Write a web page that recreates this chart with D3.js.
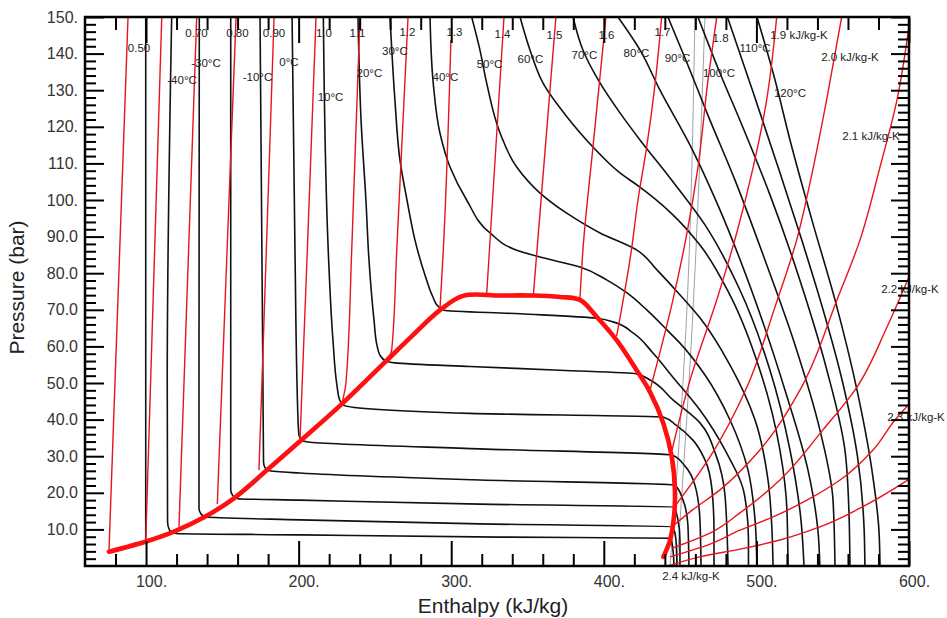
<!DOCTYPE html>
<html><head><meta charset="utf-8">
<script src="https://cdn.jsdelivr.net/npm/d3@7"></script>
<style>body{margin:0;background:#fff}svg{display:block}text{font-family:"Liberation Sans",Arial,Helvetica,sans-serif}</style>
</head><body>
<svg id="c" width="947" height="618"></svg>
<script>
// ---- axis ticks ----
const xMajor=[100,200,300,400,500,600];
const xMajorLabels=["100.","200.","300.","400.","500.","600."];
const xMinor=[80,120,140,160,180,220,240,260,280,320,340,360,380,420,440,460,480,520,540,560,580];
const yMajor=[10,20,30,40,50,60,70,80,90,100,110,120,130,140,150];
const yMajorLabels=["10.0","20.0","30.0","40.0","50.0","60.0","70.0","80.0","90.0","100.","110.","120.","130.","140.","150."];
const yMinor=[2,4,6,8,12,14,16,18,22,24,26,28,32,34,36,38,42,44,46,48,52,54,56,58,62,64,66,68,72,74,76,78,82,84,86,88,92,94,96,98,102,104,106,108,112,114,116,118,122,124,126,128,132,134,136,138,142,144,146,148];

// ---- saturation dome [h kJ/kg, p bar] ----
const dome=[[75.7,3.9],[100.0,6.7],[118.3,9.4],[138.0,13.3],[157.6,18.5],[179.3,26.2],[200.9,34.1],[228.4,44.3],[256.6,55.7],[274.9,63.1],[292.6,69.9],[307.7,73.8],[332.0,73.9],[353.6,73.9],[371.3,73.5],[384.4,72.7],[395.3,68.1],[408.4,61.7],[421.5,53.5],[430.3,47.5],[439.0,39.0],[444.5,29.9],[446.6,20.8],[446.0,13.5],[443.4,7.1],[439.0,2.5]];

// ---- isotherms ----
const isothermNames=["-50","-40","-30","-20","-10","0","10","20","30","40","50","60","70","80","90","100","110","120"];
const isotherms=[
 [[99.8,150],[99.8,6.8]],
 [[116.8,150],[113.9,50.8],[114.1,12.0],[115.4,9.8],[119.6,8.9],[200.9,8.5],[332.0,7.9],[444.0,7.6],[445.3,4.4],[446.0,0]],
 [[134.9,150],[134.7,50.8],[134.7,15.8],[136.0,14.2],[139.9,13.4],[200.9,12.6],[318.8,11.5],[445.3,10.7],[447.3,7.1],[447.9,0]],
 [[155.5,150],[155.5,20.8],[156.7,19.3],[160.3,18.4],[200.9,18.0],[318.8,16.9],[446.0,16.1],[448.6,12.6],[449.9,7.1],[449.9,0]],
 [[174.7,150],[176.6,50.8],[177.0,28.4],[178.0,26.8],[181.2,26.0],[200.9,25.4],[318.8,23.5],[446.6,22.1],[451.9,18.0],[455.1,11.2],[455.8,0]],
 [[195.7,150],[197.6,86.3],[199.6,39.9],[200.2,35.8],[202.2,34.3],[206.1,33.9],[318.8,32.0],[444.7,30.3],[453.2,27.3],[459.7,22.1],[463.0,12.6],[463.7,0]],
 [[216.2,150],[219.4,86.3],[222.5,61.7],[225.1,49.4],[226.8,45.4],[229.7,43.9],[312.3,41.7],[438.8,40.7],[447.3,38.5],[458.4,34.4],[466.3,29.0],[470.9,20.8],[472.2,9.8],[472.2,0]],
 [[238.9,150],[240.9,121.9],[244.1,100.0],[246.1,83.6],[249.4,67.2],[251.3,60.4],[253.3,57.6],[257.2,56.0],[263.1,55.5],[312.3,54.5],[371.3,53.5],[421.5,52.5],[430.3,50.8],[445.3,45.4],[463.0,39.1],[473.5,30.3],[479.4,19.4],[481.4,0]],
 [[259.9,150],[263.1,127.3],[266.4,110.9],[271.0,100.0],[276.2,89.1],[282.8,79.5],[288.0,73.5],[291.3,71.0],[295.3,69.9],[345.1,68.9],[395.3,67.7],[406.0,66.7],[419.1,63.7],[432.2,58.2],[445.3,51.6],[463.0,42.6],[479.4,31.7],[492.2,19.4],[494.8,7.1],[494.8,0]],
 [[286.1,150],[288.2,132.0],[292.6,118.3],[299.2,109.0],[310.1,100.0],[325.4,91.0],[342.9,86.3],[358.2,84.4],[384.4,81.7],[402.1,78.1],[415.2,74.6],[428.3,69.9],[441.4,64.5],[449.9,60.9],[466.3,52.2],[482.7,39.9],[494.5,26.2],[499.1,12.6],[500.4,0]],
 [[313.4,150],[318.8,141.0],[323.2,132.0],[332.0,118.3],[342.9,109.0],[358.2,101.9],[375.7,96.4],[397.5,91.0],[421.7,86.3],[434.8,80.9],[445.3,76.2],[463.0,67.8],[482.7,54.9],[499.1,39.9],[507.6,23.5],[510.2,9.8],[510.9,0]],
 [[345.1,150],[351.6,141.0],[360.1,132.0],[375.9,122.7],[392.9,114.5],[410.6,107.4],[423.7,103.5],[443.4,96.7],[463.0,87.7],[482.7,74.0],[502.3,53.5],[515.4,31.7],[520.0,15.3],[520.7,0]],
 [[379.8,150],[386.3,141.0],[397.5,132.0],[410.6,123.8],[423.7,116.4],[443.4,106.0],[466.3,93.2],[489.2,75.4],[508.9,53.5],[522.0,31.7],[529.2,12.6],[531.2,0]],
 [[409.3,150],[423.7,141.0],[436.8,130.0],[456.5,115.0],[476.1,97.3],[499.1,72.7],[518.7,48.1],[533.8,26.2],[540.3,9.8],[541.6,0]],
 [[442.0,150],[453.8,138.2],[468.2,123.2],[485.9,105.5],[505.6,83.6],[525.3,60.4],[541.6,37.2],[550.2,18.0],[551.5,0]],
 [[461.7,150],[476.1,134.7],[490.5,120.5],[508.9,101.4],[528.5,78.1],[546.2,53.5],[558.0,31.7],[560.6,15.3],[561.3,0]],
 [[481.0,150],[497.4,130.0],[513.4,110.0],[529.0,90.0],[543.7,70.0],[556.6,50.0],[566.2,30.0],[570.6,10.0],[571.1,0]],
 [[500.4,150],[512.2,132.8],[522.0,116.4],[536.4,94.5],[551.5,72.7],[565.9,48.1],[575.7,26.2],[580.3,9.8],[581.0,0]]
];

// ---- isentropes (kJ/kg-K) ----
const isentropeNames=["0.50","0.60","0.70","0.80","0.90","1.0","1.1","1.2","1.3","1.4","1.5","1.6","1.7","1.8","1.9","2.0","2.1","2.2","2.3","2.4"];
const isentropes=[
 [[75.7,3.9],[88.2,150]],
 [[99.8,6.6],[110.3,150]],
 [[121.6,10.7],[133.2,150]],
 [[146.7,16.9],[159.0,150]],
 [[174.0,26.2],[176.0,50.8],[183.9,150]],
 [[200.9,34.4],[205.7,86.3],[211.4,150]],
 [[228.4,44.5],[231.0,50.0],[234.8,86.3],[240.2,150]],
 [[259.2,57.1],[261.0,59.0],[264.3,86.3],[271.7,150]],
 [[292.6,69.9],[294.8,86.3],[299.8,143.7]],
 [[323.2,74.0],[334.6,150]],
 [[353.8,73.9],[368.6,150]],
 [[384.4,73.2],[386.3,86.3],[392.9,114.5],[401.4,150]],
 [[408.4,62.8],[417.8,85.5],[422.4,100.0],[428.1,114.5],[433.5,131.4],[437.9,150]],
 [[430.3,48.1],[445.3,72.7],[454.5,91.0],[461.7,109.0],[468.3,132.8],[474.0,150]],
 [[444.7,31.7],[456.5,50.8],[474.0,72.7],[487.1,91.0],[497.9,109.0],[506.7,127.3],[513.3,150]],
 [[447.3,16.7],[469.6,29.8],[493.8,48.9],[512.2,70.8],[526.4,89.1],[535.1,104.6],[546.0,127.3],[555.9,150]],
 [[446.0,11.2],[456.5,14.8],[476.1,20.8],[502.3,31.7],[528.6,48.1],[552.8,72.7],[567.9,89.1],[581.0,109.0],[592.1,127.3],[600.6,149.3]],
 [[444.7,4.9],[469.6,9.0],[489.2,14.5],[515.4,23.5],[543.6,37.2],[565.9,48.9],[585.6,65.3],[601.3,80.3]],
 [[443.4,2.5],[469.6,6.0],[489.2,9.8],[510.9,13.4],[533.1,18.0],[554.8,23.5],[576.4,31.7],[590.8,39.9],[601.3,44.8]],
 [[442.1,0],[463.0,2.5],[489.2,4.6],[515.4,7.1],[541.6,10.7],[567.9,15.8],[601.3,24.0]]
];

// ---- thin grey guide lines ----
const greyLines=[
 [[459.7,150],[453.8,64.5],[443.4,0]],
 [[466.3,150],[457.8,64.5],[447.9,0]]
];

// ---- curve labels [text, h, p] ----
const entropyLabels=[["0.50",95.4,141.5],["0.70",133.1,145.6],["0.80",159.9,145.6],["0.90",183.9,145.6],["1.0",216.6,145.6],["1.1",238.6,145.6],["1.2",271.3,145.9],["1.3",302.1,145.9],["1.4",333.6,145.4],["1.5",367.7,145.1],["1.6",401.7,145.1],["1.7",438.4,145.9],["1.8",476.5,144.3],["1.9 kJ/kg-K",527.9,145.1],["2.0 kJ/kg-K",561.3,139.1],["2.1 kJ/kg-K",575.1,117.5],["2.2 kJ/kg-K",600.6,75.7],["2.3 kJ/kg-K",604.6,40.7],["2.4 kJ/kg-K",457.1,-2.7]];
const tempLabels=[["-40°C",123.6,132.8],["-30°C",139.3,137.4],["-10°C",173.0,133.6],["0°C",193.7,137.7],["10°C",220.9,128.1],["20°C",246.4,134.7],["30°C",263.1,140.7],["40°C",296.2,133.6],["50°C",325.1,137.2],["60°C",351.9,138.5],["70°C",387.3,139.6],["80°C",421.4,140.2],["90°C",448.3,138.8],["100°C",475.5,134.7],["110°C",499.1,141.5],["120°C",522.0,129.2]];

// ---- drawing ----
const svg=d3.select("#c");
const x=d3.scaleLinear().domain([60,600]).range([85,909]);
const y=d3.scaleLinear().domain([0,150]).range([566,17]);
svg.append("defs").append("clipPath").attr("id","clip").append("rect")
  .attr("x",x(60)).attr("y",y(150)).attr("width",x(600)-x(60)).attr("height",y(0)-y(150));
const lineP=d3.line().x(d=>x(d[0])).y(d=>y(d[1])).curve(d3.curveMonotoneY);
const lineDome=d3.line().x(d=>x(d[0])).y(d=>y(d[1])).curve(d3.curveCatmullRom.alpha(0.5));
const plot=svg.append("g").attr("clip-path","url(#clip)");

plot.append("g").selectAll("path").data(greyLines).join("path")
  .attr("d",lineP).attr("fill","none").attr("stroke","#a0a0a0").attr("stroke-width",1);
plot.append("g").selectAll("path").data(isotherms).join("path")
  .attr("d",lineP).attr("fill","none").attr("stroke","#111").attr("stroke-width",1.6);
plot.append("g").selectAll("path").data(isentropes).join("path")
  .attr("d",lineP).attr("fill","none").attr("stroke","#e8141b").attr("stroke-width",1.4);
plot.append("path").datum(dome).attr("d",lineDome).attr("fill","none")
  .attr("stroke","#ff1010").attr("stroke-width",4.6).attr("stroke-linejoin","round").attr("stroke-linecap","round");

// labels
const lab=svg.append("g").attr("font-size",11.5).attr("fill","#222").attr("text-anchor","middle");
lab.selectAll("text.s").data(entropyLabels).join("text").attr("class","s")
  .attr("x",d=>x(d[1])).attr("y",d=>y(d[2])).attr("dy","0.35em").text(d=>d[0]);
lab.selectAll("text.t").data(tempLabels).join("text").attr("class","t")
  .attr("x",d=>x(d[1])).attr("y",d=>y(d[2])).attr("dy","0.35em").text(d=>d[0]);

// axes
function style(g){g.select(".domain").remove();g.selectAll(".tick line").attr("stroke","#000").attr("stroke-width",2);
  g.selectAll(".tick text").attr("font-size",16).attr("fill","#333").attr("font-family","'Liberation Sans',Arial,sans-serif");}
svg.append("g").attr("transform",`translate(0,${y(0)})`)
  .call(d3.axisBottom(x).tickValues(xMajor).tickFormat((d,i)=>xMajorLabels[i]).tickSize(-25).tickSizeOuter(0).tickPadding(10)).call(style)
  .call(g=>g.selectAll(".tick text").attr("dx",5));
svg.append("g").attr("transform",`translate(0,${y(0)})`)
  .call(d3.axisBottom(x).tickValues(xMinor).tickFormat("").tickSize(-12).tickSizeOuter(0)).call(style);
svg.append("g").attr("transform",`translate(0,${y(150)})`)
  .call(d3.axisTop(x).tickValues(xMajor).tickFormat("").tickSize(-26).tickSizeOuter(0)).call(style);
svg.append("g").attr("transform",`translate(0,${y(150)})`)
  .call(d3.axisTop(x).tickValues(xMinor).tickFormat("").tickSize(-13).tickSizeOuter(0)).call(style);
svg.append("g").attr("transform",`translate(${x(60)},0)`)
  .call(d3.axisLeft(y).tickValues(yMajor).tickFormat((d,i)=>yMajorLabels[i]).tickSize(-19).tickSizeOuter(0).tickPadding(7)).call(style);
svg.append("g").attr("transform",`translate(${x(60)},0)`)
  .call(d3.axisLeft(y).tickValues(yMinor).tickFormat("").tickSize(-11).tickSizeOuter(0)).call(style);
svg.append("g").attr("transform",`translate(${x(600)},0)`)
  .call(d3.axisRight(y).tickValues(yMajor).tickFormat("").tickSize(-18).tickSizeOuter(0)).call(style);
svg.append("g").attr("transform",`translate(${x(600)},0)`)
  .call(d3.axisRight(y).tickValues(yMinor).tickFormat("").tickSize(-11).tickSizeOuter(0)).call(style);
svg.append("rect").attr("x",x(60)).attr("y",y(150)).attr("width",x(600)-x(60)).attr("height",y(0)-y(150))
  .attr("fill","none").attr("stroke","#000").attr("stroke-width",2.5);

// titles
svg.append("text").attr("x",(x(60)+x(600))/2-4).attr("y",613).attr("text-anchor","middle")
  .attr("font-size",21).attr("fill","#222").text("Enthalpy (kJ/kg)");
svg.append("text").attr("transform",`translate(24,${(y(0)+y(150))/2-4}) rotate(-90)`).attr("text-anchor","middle")
  .attr("font-size",21).attr("fill","#222").text("Pressure (bar)");
</script>
</body></html>
